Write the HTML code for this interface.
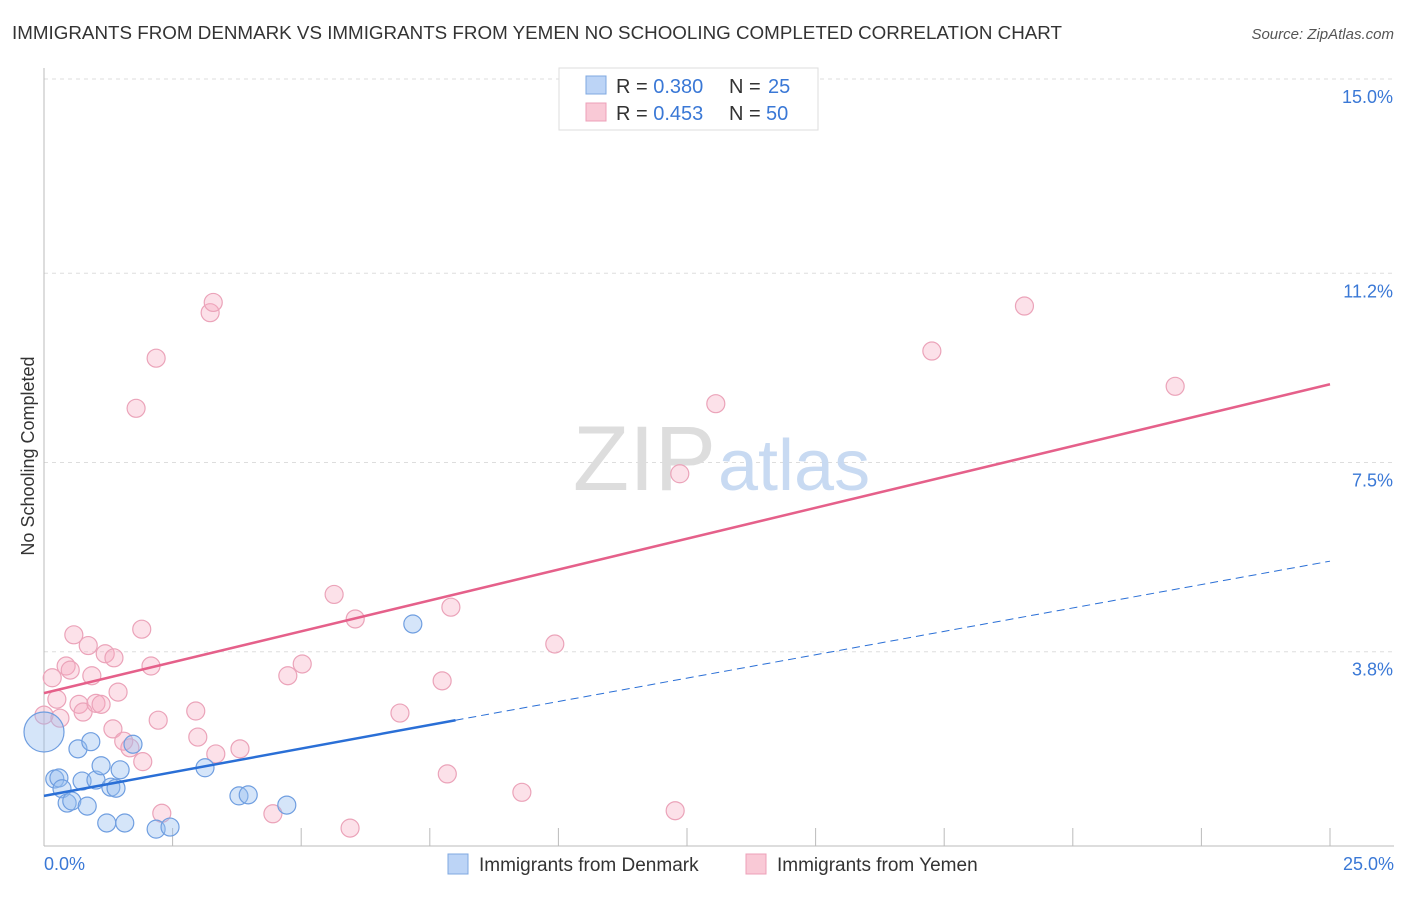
<!DOCTYPE html>
<html><head><meta charset="utf-8"><style>
body{margin:0;background:#fff;font-family:"Liberation Sans",sans-serif}
svg text{font-family:"Liberation Sans",sans-serif}
</style></head><body>
<svg width="1406" height="892" xmlns="http://www.w3.org/2000/svg">
<text x="12" y="39" font-size="18" fill="#333" textLength="1050" lengthAdjust="spacingAndGlyphs">IMMIGRANTS FROM DENMARK VS IMMIGRANTS FROM YEMEN NO SCHOOLING COMPLETED CORRELATION CHART</text>
<text x="1394" y="39" font-size="15" fill="#555" font-style="italic" text-anchor="end">Source: ZipAtlas.com</text>
<g id="grid"></g>
<text x="716" y="490" font-size="92" fill="#ddd" text-anchor="end" font-family="Liberation Serif">ZIP</text>
<text x="718" y="490" font-size="72" fill="#c8daf2">atlas</text>
<text transform="translate(34,456) rotate(-90)" font-size="18" fill="#333" text-anchor="middle">No Schooling Completed</text>
<g id="marks"></g>
<g>
<rect x="559" y="68" width="259" height="62" fill="#fff" stroke="#ddd"/>
<rect x="586" y="76" width="20" height="18" fill="#bcd4f6" stroke="#7fa8e0"/>
<rect x="586" y="103" width="20" height="18" fill="#f9c9d6" stroke="#eda0b8"/>
<text x="616" y="93" font-size="20" fill="#333">R = <tspan fill="#3a78d6">0.380</tspan></text>
<text x="729" y="93" font-size="20" fill="#333">N = </text><text x="768" y="93" font-size="20" fill="#3a78d6">25</text>
<text x="616" y="120" font-size="20" fill="#333">R = <tspan fill="#3a78d6">0.453</tspan></text>
<text x="729" y="120" font-size="20" fill="#333">N = </text><text x="766" y="120" font-size="20" fill="#3a78d6">50</text>
</g>
<g>
<rect x="448" y="854" width="20" height="20" fill="#bcd4f6" stroke="#7fa8e0"/>
<text x="479" y="871" font-size="19" fill="#333">Immigrants from Denmark</text>
<rect x="746" y="854" width="20" height="20" fill="#f9c9d6" stroke="#eda0b8"/>
<text x="777" y="871" font-size="19" fill="#333">Immigrants from Yemen</text>
</g>
<text x="44" y="870" font-size="18" fill="#3a78d6">0.0%</text>
<text x="1394" y="870" font-size="18" fill="#3a78d6" text-anchor="end">25.0%</text>
</svg>
<script>
const yTicks=[15.0,11.2,7.5,3.8];
const yTickLabels=["15.0%","11.2%","7.5%","3.8%"];
const denX=[0.0,0.21,0.29,0.35,0.45,0.54,0.66,0.74,0.84,0.91,1.01,1.11,1.22,1.3,1.4,1.48,1.57,1.73,2.18,2.45,3.13,3.79,3.97,4.72,7.17];
const denY=[2.23,1.31,1.33,1.12,0.84,0.88,1.9,1.27,0.78,2.04,1.29,1.57,0.45,1.15,1.13,1.49,0.45,1.99,0.33,0.37,1.53,0.98,1.0,0.8,4.342];
const denR=[20,9,9,9,9,9,9,9,9,9,9,9,9,9,9,9,9,9,9,9,9,9,9,9,9];
const yemX=[0.0,0.16,0.25,0.31,0.43,0.51,0.58,0.68,0.76,0.86,0.93,1.01,1.11,1.19,1.36,1.44,1.34,1.55,1.67,1.9,1.92,2.08,2.22,2.18,1.79,2.29,2.95,2.99,3.23,3.29,3.34,3.81,4.45,4.74,5.02,5.64,5.95,6.05,6.92,7.74,7.84,7.91,9.29,9.93,12.27,12.36,13.06,17.26,19.06,21.99];
const yemY=[2.56,3.29,2.87,2.5,3.52,3.44,4.13,2.77,2.62,3.92,3.33,2.79,2.77,3.76,3.68,3.01,2.29,2.05,1.92,4.24,1.65,3.52,2.46,9.54,8.56,0.64,2.64,2.13,10.43,10.63,1.8,1.9,0.63,3.33,3.56,4.92,0.35,4.44,2.6,3.23,1.41,4.67,1.05,3.95,0.69,7.28,8.65,9.68,10.56,8.99];
const fitDen=[0.98,2.46,5.57];
const fitYem=[2.99,9.03];
const X=v=>44+v/25*1286, Y=v=>846-v/15*767;
const NS="http://www.w3.org/2000/svg";
const grid=document.getElementById('grid'), marks=document.getElementById('marks');
function mk(tag,at,parent){const e=document.createElementNS(NS,tag);for(const k in at)e.setAttribute(k,at[k]);parent.appendChild(e);return e;}
yTicks.forEach((t,i)=>{
 const l=mk('line',{x1:44,x2:1394,y1:Y(t),y2:Y(t),stroke:'#ddd','stroke-dasharray':'4,4'},grid);
 
 
 const tx=mk('text',{x:1393,y:Y(t)+24,'font-size':18,fill:'#3a78d6','text-anchor':'end'},grid);
 tx.textContent=yTickLabels[i];
 
 
});
const ax=mk('line',{x1:44,x2:44,y1:68,y2:846,stroke:'#bbb'},grid);


const bx=mk('line',{x1:44,x2:1394,y1:846,y2:846,stroke:'#bbb'},grid);


for(let i=1;i<=10;i++){const t=mk('line',{x1:X(i*2.5),x2:X(i*2.5),y1:828,y2:846,stroke:'#bbb'},grid);
 
 }
yemX.forEach((x,i)=>{const c=mk('circle',{cx:X(x),cy:Y(yemY[i]),r:9,fill:'rgba(246,170,192,0.35)',stroke:'#eba3b9','stroke-width':1.2},marks);
 
 });
denX.forEach((x,i)=>{const c=mk('circle',{cx:X(x),cy:Y(denY[i]),r:denR[i],fill:'rgba(150,190,240,0.4)',stroke:'#6f9ee0','stroke-width':1.2},marks);
 
 });
const l1=mk('line',{x1:X(0),y1:Y(fitDen[0]),x2:X(8),y2:Y(fitDen[1]),stroke:'#2a6fd6','stroke-width':2.5},marks);


const l2=mk('line',{x1:X(8),y1:Y(fitDen[1]),x2:X(25),y2:Y(fitDen[2]),stroke:'#2a6fd6','stroke-width':1,'stroke-dasharray':'8,5'},marks);


const l3=mk('line',{x1:X(0),y1:Y(fitYem[0]),x2:X(25),y2:Y(fitYem[1]),stroke:'#e5608a','stroke-width':2.5},marks);


</script>
</body></html>
